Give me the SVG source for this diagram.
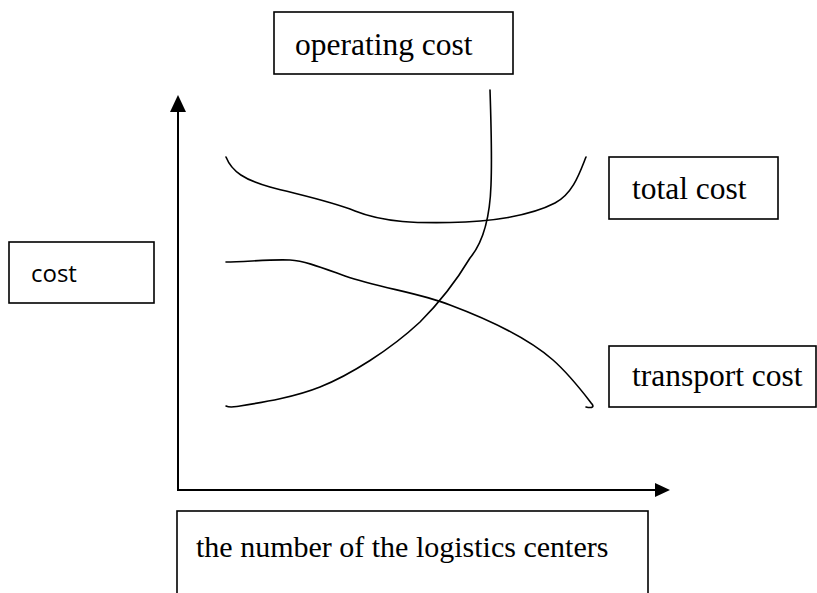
<svg xmlns="http://www.w3.org/2000/svg" width="817" height="593" viewBox="0 0 817 593">
  <style>
    .box { fill: #ffffff; stroke: #000000; stroke-width: 1.6; }
    .serif { font-family: "Liberation Serif", "Times New Roman", serif; font-size: 31.5px; fill: #000000; }
    .serif-axis { font-family: "Liberation Serif", "Times New Roman", serif; font-size: 30px; fill: #000000; }
    .sans { font-family: "Open Sans", "Liberation Sans", sans-serif; font-size: 24px; fill: #000000; }
    .axis { fill: none; stroke: #000000; stroke-width: 2; }
    .curve { fill: none; stroke: #000000; stroke-width: 1.6; stroke-linecap: round; stroke-linejoin: round; }
  </style>
  <rect width="817" height="593" fill="#ffffff"/>

  <!-- axes and cost curves -->
  <g id="connectors">
    <path class="axis" d="M178,490 L178,112"/>
    <path d="M170,112 L178,95 L186,112 Z" fill="#000000"/>
    <path class="axis" d="M177,490 L655,490"/>
    <path d="M655,483 L670,490 L655,497 Z" fill="#000000"/>

    <!-- total cost -->
    <path class="curve" d="M226,157 C232,172 245,180 270,187 C300,195 330,201 355,211 C385,223 420,223 450,222.5 C490,222 530,216 555,203 C573,194 580,172 586,157"/>
    <!-- operating cost -->
    <path class="curve" d="M490,90 C491,120 492,160 491,185 C490,215 485,240 470,258 C455,283 440,302 420,322 C390,350 350,375 320,387 C295,397 265,402 240,406 C233,407 230,408 226,406"/>
    <!-- transport cost -->
    <path class="curve" d="M226,262 C245,262 270,259 290,260 C305,261 320,267 345,276 C380,288 420,293 450,305 C490,320 530,340 553,360 C570,375 585,395 592,404 C595,408 590,408 586,407"/>
  </g>

  <g id="operating-cost">
    <rect class="box" x="274" y="12" width="239" height="62"/>
    <text class="serif" x="295" y="55">operating cost</text>
  </g>

  <g id="total-cost">
    <rect class="box" x="609" y="157" width="169" height="62"/>
    <text class="serif" x="632" y="199">total cost</text>
  </g>

  <g id="transport-cost">
    <rect class="box" x="609" y="346" width="207" height="61"/>
    <text class="serif" x="632" y="386">transport cost</text>
  </g>

  <g id="cost">
    <rect class="box" x="9" y="242" width="145" height="61"/>
    <text class="sans" x="31" y="282">cost</text>
  </g>

  <g id="logistics-centers">
    <rect class="box" x="177" y="511" width="471" height="100"/>
    <text class="serif-axis" x="196" y="557">the number of the logistics centers</text>
  </g>
</svg>
